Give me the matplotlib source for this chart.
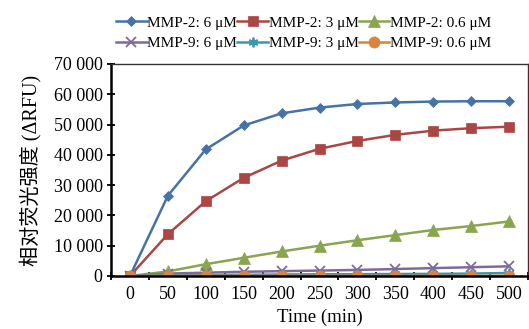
import numpy as np
import matplotlib
matplotlib.use("Agg")
import matplotlib.pyplot as plt

plt.rcParams['font.family'] = ['Liberation Serif', 'Noto Sans CJK SC']

time_min = [0, 50, 100, 150, 200, 250, 300, 350, 400, 450, 500]
mmp2_6 = [0, 26500, 41800, 49700, 53700, 55600, 56800, 57300, 57600, 57700, 57700]
mmp2_3 = [0, 13800, 24700, 32400, 38100, 42000, 44600, 46600, 48000, 48800, 49300]
mmp2_06 = [0, 1500, 3900, 6000, 8100, 10000, 11800, 13500, 15200, 16500, 18000]
mmp9_6 = [0, 800, 1100, 1400, 1600, 1800, 2000, 2300, 2600, 2900, 3200]
mmp9_3 = [0, 200, 300, 400, 500, 550, 600, 650, 700, 800, 1000]
mmp9_06 = [0, 50, 50, 50, 50, 50, 50, 50, 50, 50, 50]

series = [
    ("MMP-2: 6 μM", mmp2_6, "#4572A7", "D", 5),
    ("MMP-2: 3 μM", mmp2_3, "#AA4643", "s", 7),
    ("MMP-2: 0.6 μM", mmp2_06, "#89A54E", "^", 8),
    ("MMP-9: 6 μM", mmp9_6, "#80699B", "x", 7),
    ("MMP-9: 3 μM", mmp9_3, "#3D96AE", (6, 2, 0), 7),
    ("MMP-9: 0.6 μM", mmp9_06, "#DB843D", "o", 8),
]

fig = plt.figure(figsize=(5.29, 3.29), dpi=100)
ax = fig.add_axes([111 / 529, 1 - 276 / 329, 417 / 529, 212 / 329])

lines = []
for label, vals, col, mk, ms in series:
    ln, = ax.plot(time_min, vals, color=col, marker=mk, markersize=ms, lw=1.8,
                  label=label, markeredgecolor=col,
                  markeredgewidth=1.3 if mk in ("x", (6, 2, 0)) else 0.5)
    lines.append(ln)

ax.set_xlim(-25, 525)
ax.set_ylim(0, 70000)
ax.set_xticks(time_min)
ax.set_xticks(np.arange(-25, 526, 50), minor=True)
ax.tick_params(axis='x', which='major', length=0, labelsize=13, pad=7)
ax.tick_params(axis='x', which='minor', direction='inout', length=6, width=1.3)
ax.set_yticks(np.arange(0, 70001, 10000))
ax.set_yticklabels([f"{v:,}".replace(",", " ") for v in range(0, 70001, 10000)])
ax.tick_params(axis='y', direction='inout', length=6, width=1.3, labelsize=13, pad=3)
for s in ['top', 'right']:
    ax.spines[s].set_linewidth(1.0)
    ax.spines[s].set_color('#333333')
for s in ['left', 'bottom']:
    ax.spines[s].set_linewidth(1.8)

ax.set_xlabel("Time (min)", fontsize=13.5, labelpad=4)
ax.set_ylabel("相对荧光强度 (ΔRFU)", fontsize=14.5, labelpad=9)

order = [0, 3, 1, 4, 2, 5]
ax.legend([lines[i] for i in order], [series[i][0] for i in order],
          loc='lower center', bbox_to_anchor=(0.462, 1.0), ncol=3, frameon=False,
          fontsize=11, handlelength=2.0, handletextpad=0.05, columnspacing=0.0,
          labelspacing=0.45, borderaxespad=0.5)

fig.savefig("out.png", dpi=100)
